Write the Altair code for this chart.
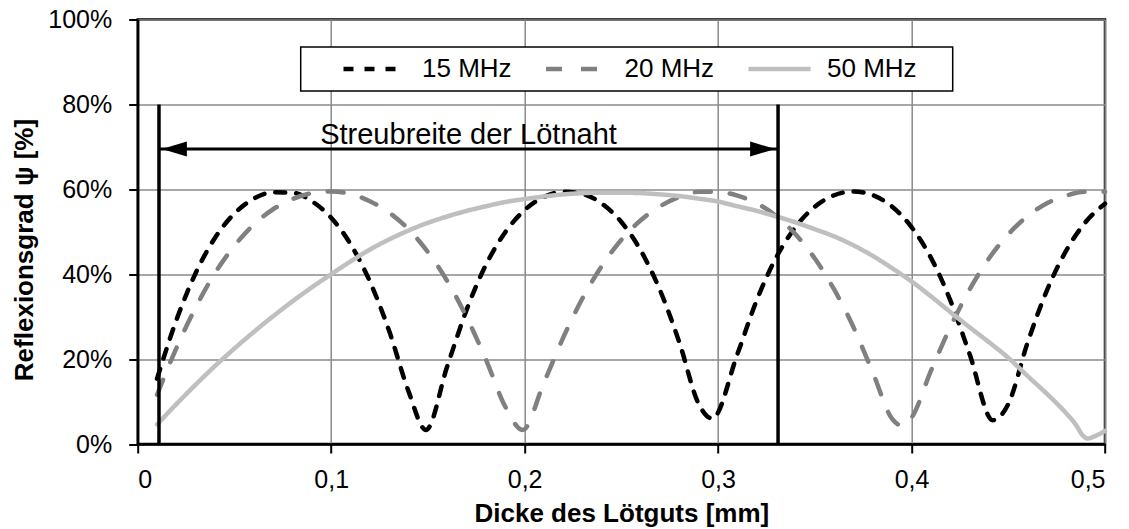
import altair as alt
import pandas as pd

# ---------------- data ----------------
series_names = ["15 MHz", "20 MHz", "50 MHz"]

x15 = [0.01, 0.02, 0.03, 0.04, 0.05, 0.06, 0.07, 0.08, 0.09, 0.10,
       0.11, 0.12, 0.13, 0.14, 0.149, 0.16, 0.17, 0.18, 0.19, 0.20,
       0.21, 0.22, 0.23, 0.24, 0.25, 0.26, 0.27, 0.28, 0.29, 0.297,
       0.31, 0.32, 0.33, 0.34, 0.35, 0.36, 0.37, 0.38, 0.39, 0.40,
       0.41, 0.42, 0.43, 0.442, 0.45, 0.46, 0.47, 0.48, 0.49, 0.50]
y15 = [15.4, 29.2, 40.3, 48.6, 54.3, 57.8, 59.3, 59.2, 57.2, 53.3,
       47.1, 38.3, 26.6, 12.4, 3.3, 18.3, 31.6, 42.2, 49.9, 55.1,
       58.2, 59.4, 58.9, 56.6, 52.3, 45.6, 36.2, 23.9, 9.4, 6.0,
       21.2, 33.9, 43.9, 51.1, 55.9, 58.6, 59.5, 58.6, 55.9, 51.1,
       43.9, 33.9, 21.2, 5.6, 9.4, 23.9, 36.2, 45.6, 52.3, 56.6]

x20 = [0.01, 0.02, 0.03, 0.04, 0.05, 0.06, 0.07, 0.08, 0.09, 0.10,
       0.11, 0.12, 0.13, 0.14, 0.15, 0.16, 0.17, 0.18, 0.19, 0.199,
       0.21, 0.22, 0.23, 0.24, 0.25, 0.26, 0.27, 0.28, 0.29, 0.30,
       0.31, 0.32, 0.33, 0.34, 0.35, 0.36, 0.37, 0.38, 0.39, 0.395,
       0.40, 0.41, 0.42, 0.43, 0.44, 0.45, 0.46, 0.47, 0.48, 0.49, 0.50]
y20 = [11.6, 22.6, 32.2, 40.3, 46.7, 51.7, 55.3, 57.7, 59.1, 59.5,
       58.9, 57.2, 54.5, 50.6, 45.2, 38.4, 29.9, 19.9, 8.8, 3.3,
       14.5, 25.1, 34.4, 42.0, 48.1, 52.7, 56.0, 58.2, 59.4, 59.4,
       58.5, 56.7, 53.7, 49.4, 43.7, 36.4, 27.5, 16.8, 5.9, 4.3,
       6.2, 17.2, 27.5, 36.4, 43.7, 49.4, 53.7, 56.7, 58.5, 59.4, 59.4]

x50 = [0.01, 0.02, 0.03, 0.04, 0.05, 0.06, 0.07, 0.08, 0.09, 0.10,
       0.11, 0.12, 0.13, 0.14, 0.15, 0.16, 0.17, 0.18, 0.19, 0.20,
       0.21, 0.22, 0.23, 0.24, 0.25, 0.26, 0.27, 0.28, 0.29, 0.30,
       0.31, 0.32, 0.33, 0.34, 0.35, 0.36, 0.37, 0.38, 0.39, 0.40,
       0.41, 0.42, 0.43, 0.44, 0.45, 0.46, 0.47, 0.48, 0.485, 0.4885,
       0.491, 0.495, 0.50]
y50 = [4.6, 9.4, 14.0, 18.4, 22.5, 26.4, 30.1, 33.6, 36.9, 40.0,
       43.0, 45.8, 48.2, 50.3, 52.1, 53.6, 54.9, 56.0, 57.0, 57.7,
       58.3, 58.8, 59.1, 59.2, 59.2, 59.1, 58.8, 58.4, 57.8, 57.1,
       56.0, 54.9, 53.6, 52.2, 50.6, 48.9, 46.8, 44.3, 41.4, 38.3,
       34.8, 31.1, 27.5, 24.0, 20.3, 16.0, 11.8, 7.2, 4.5, 2.0,
       1.3, 1.9, 3.1]

# annotation: range of the solder seam
range_x = [0.011, 0.331]
range_top = 80
arrow_y = 69.5
arrow_tips = [0.0125, 0.3295]
label_text = "Streubreite der Lötnaht"
label_pos = [0.171, 70.7]

# x tick values and y tick values
x_ticks = [0, 0.1, 0.2, 0.3, 0.4, 0.5]
y_ticks = [0, 20, 40, 60, 80, 100]

# ---------------- tables ----------------
rows = []
for name, xs, ys in zip(series_names, [x15, x20, x50], [y15, y20, y50]):
    for a, b in zip(xs, ys):
        rows.append({"x": a, "y": b, "series": name})
df_lines = pd.DataFrame(rows)

df_vl = pd.DataFrame({"x": range_x, "y0": [0, 0], "y1": [range_top, range_top]})
df_arrow = pd.DataFrame({"x0": [range_x[0]], "x1": [range_x[1]], "y": [arrow_y]})
df_heads = pd.DataFrame({"x": arrow_tips, "y": [arrow_y, arrow_y], "dir": ["l", "r"]})
df_text = pd.DataFrame({"x": [label_pos[0]], "y": [label_pos[1]], "label": [label_text]})

FONT = "Liberation Sans"
W, H = 967.3, 424.5

colors = ["#000000", "#808080", "#bfbfbf"]
dashes = [[10, 11], [16, 19], [1, 0]]

# long line symbol drawn with a small symbol size so the entry stays low;
# an empty left title and invisible trailing space on the last label widen the frame
legend = alt.Legend(
    title=" ", titleOrient="left", titlePadding=30.8, titleFontSize=26, titleFont=FONT,
    orient="none", direction="horizontal", columns=3,
    legendX=163, legendY=27.5, padding=9,
    strokeColor="black", fillColor="white",
    symbolType="M-1,0L5.2,0", symbolSize=400, symbolStrokeWidth=4.5,
    labelFont=FONT, labelFontSize=26, labelColor="black",
    labelOffset=55.5, columnPadding=24.5,
    labelExpr="datum.label == '50 MHz' ? '50 MHz\u00a0\u00a0\u00a0\u2009\u200b' : datum.label",
)

x_enc = alt.X("x:Q",
              scale=alt.Scale(domain=[0, 0.5], nice=False, zero=False),
              axis=alt.Axis(values=x_ticks,
                            labelExpr="replace(format(datum.value, '.1~f'), '.', ',')",
                            title="Dicke des Lötguts [mm]",
                            labelBaseline="alphabetic", labelPadding=34,
                            titleX=W / 2, titleY=77.7, titleAnchor="middle",
                            titleBaseline="alphabetic", titleAlign="center"))
y_enc = alt.Y("y:Q",
              scale=alt.Scale(domain=[0, 100], nice=False),
              axis=alt.Axis(values=y_ticks,
                            labelExpr="datum.value + '%'",
                            title="Reflexionsgrad ψ [%]",
                            labelPadding=17,
                            titleX=-105, titleY=230, titleAngle=-90,
                            titleBaseline="alphabetic", titleAlign="center"))

lines = alt.Chart(df_lines).mark_line(
    strokeWidth=4.5, strokeCap="round", interpolate="monotone"
).encode(
    x=x_enc,
    y=y_enc,
    color=alt.Color("series:N", scale=alt.Scale(domain=series_names, range=colors), legend=legend),
    strokeDash=alt.StrokeDash("series:N", scale=alt.Scale(domain=series_names, range=dashes), legend=legend),
)

vrules = alt.Chart(df_vl).mark_rule(color="black", strokeWidth=3.5).encode(
    x="x:Q", y="y0:Q", y2="y1:Q"
)

arrow = alt.Chart(df_arrow).mark_rule(color="black", strokeWidth=3).encode(
    x="x0:Q", x2="x1:Q", y="y:Q"
)

left_path = "M0,0L1,-0.3L1,0.3Z"
right_path = "M0,0L-1,-0.3L-1,0.3Z"
heads = alt.Chart(df_heads).mark_point(
    filled=True, opacity=1, size=2500, color="black", strokeWidth=0
).encode(
    x="x:Q", y="y:Q",
    shape=alt.Shape("dir:N", scale=alt.Scale(domain=["l", "r"], range=[left_path, right_path]), legend=None),
)

text = alt.Chart(df_text).mark_text(
    font=FONT, fontSize=29, align="center", baseline="alphabetic", color="black"
).encode(x="x:Q", y="y:Q", text="label:N")

chart = alt.layer(lines, vrules, arrow, heads, text).properties(
    width=W, height=H,
    autosize=alt.AutoSizeParams(type="none"),
    padding={"left": 137.7, "top": 19.5, "right": 24, "bottom": 85},
    background="white",
).configure_view(
    stroke="black", strokeWidth=2.5
).configure_axis(
    labelFont=FONT, labelFontSize=25, labelColor="black",
    titleFont=FONT, titleFontSize=26, titleFontWeight="bold", titleColor="black",
    grid=True, gridColor="#8a8a8a", gridWidth=1.5,
    domainColor="black", domainWidth=2.5,
    tickColor="black", tickWidth=2, tickSize=9,
).configure_legend(
    strokeWidth=1.5
)

chart.save("out.html", embed_options={"renderer": "svg", "actions": False})
